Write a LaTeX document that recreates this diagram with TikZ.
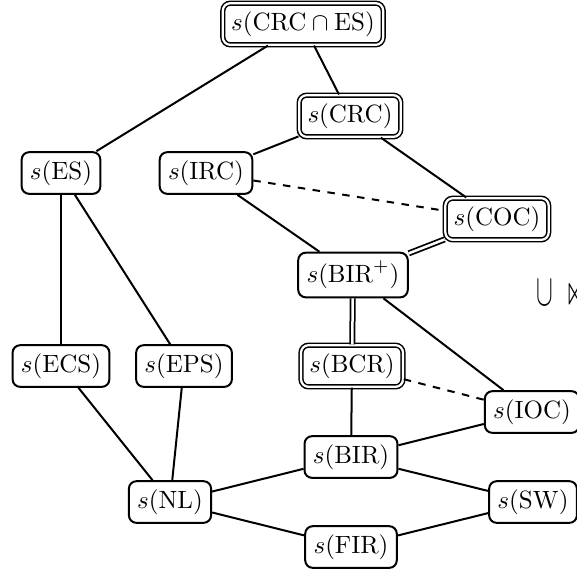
\documentclass[tikz,border=0pt]{standalone}
\usepackage{amssymb}
\usepackage{tikz}

\begin{document}
\begin{tikzpicture}[
  x=0.4pt, y=-0.4pt,
  sched/.style={draw, thick, rounded corners=3pt, inner sep=3.33pt},
  dsched/.style={sched, double, double distance=0.9pt, line width=0.6pt},
  incl/.style={draw, thick},
  weak/.style={incl, dashed},
  equal/.style={draw, line width=0.7pt, double, double distance=1pt}
]
\useasboundingbox (0,0) rectangle (577,569);

% top part
\node[dsched] (crces) at (303,24)  {$s(\mathrm{CRC}\cap\mathrm{ES})$};
\node[dsched] (crc)   at (350,116) {$s(\mathrm{CRC})$};
\node[sched]  (es)    at (61,173)  {$s(\mathrm{ES})$};
\node[sched]  (irc)   at (206,173) {$s(\mathrm{IRC})$};
\node[dsched] (coc)   at (497,219) {$s(\mathrm{COC})$};
\node[sched]  (birp)  at (353,275) {$s(\mathrm{BIR}^{+})$};

% lower part
\node[sched]  (ecs)   at (61,366)  {$s(\mathrm{ECS})$};
\node[sched]  (eps)   at (184,366) {$s(\mathrm{EPS})$};
\node[dsched] (bcr)   at (352,366) {$s(\mathrm{BCR})$};
\node[sched]  (ioc)   at (532,412) {$s(\mathrm{IOC})$};
\node[sched]  (bir)   at (351,457) {$s(\mathrm{BIR})$};
\node[sched]  (nl)    at (170,502) {$s(\mathrm{NL})$};
\node[sched]  (sw)    at (533,502) {$s(\mathrm{SW})$};
\node[sched]  (fir)   at (351,547) {$s(\mathrm{FIR})$};

\node[anchor=west, inner sep=0pt] (cutmark) at (536,294)
  {\scalebox{1}[1.8]{$\cup$}\hspace{5pt}\scalebox{1}[1.8]{$\ltimes$}};

\draw[incl] (crces) -- (es);
\draw[incl] (crces) -- (crc);
\draw[incl] (crc) -- (irc);
\draw[incl] (crc) -- (coc);
\draw[weak] (irc) -- (coc);
\draw[incl] (irc) -- (birp);
\draw[equal] (coc) -- (birp);
\draw[equal] (birp) -- (bcr);
\draw[incl] (birp) -- (ioc);
\draw[weak] (bcr) -- (ioc);
\draw[incl] (bcr) -- (bir);
\draw[incl] (es) -- (ecs);
\draw[incl] (es) -- (eps);
\draw[incl] (ecs) -- (nl);
\draw[incl] (eps) -- (nl);
\draw[incl] (nl) -- (bir);
\draw[incl] (nl) -- (fir);
\draw[incl] (bir) -- (ioc);
\draw[incl] (bir) -- (sw);
\draw[incl] (fir) -- (sw);

\end{tikzpicture}
\end{document}
